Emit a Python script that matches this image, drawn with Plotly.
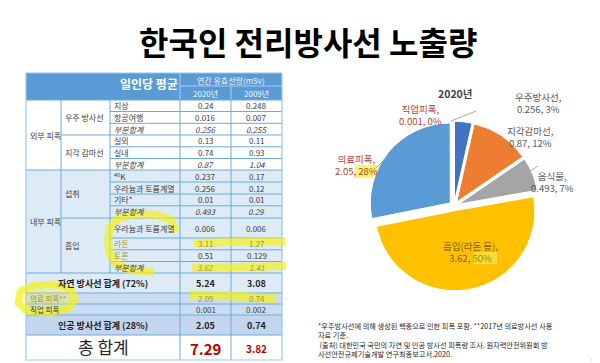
import plotly.graph_objects as go

W, H = 600, 363
FONT = "Noto Sans CJK KR"


def px(x):
    return x / W


def py(y):
    return 1 - y / H


# ---------------- data ----------------
title = "한국인 전리방사선 노출량"
header_main = "일인당 평균"
header_unit = "연간 유효선량(mSv)"
years = ["2020년", "2009년"]

exposure_types = ["외부 피폭", "내부 피폭"]
exposure_spans = [6, 8]
sources = ["우주 방사선", "지각 감마선", "섭취", "흡입"]
source_spans = [3, 3, 4, 4]
items = ["지상", "항공여행", "부분합계", "실외", "실내", "부분합계",
         "<sup>40</sup>K", "우라늄과 토륨계열", "기타*", "부분합계",
         "우라늄과 토륨계열", "라돈", "토론", "부분합계"]
dose_2020 = [0.24, 0.016, 0.256, 0.13, 0.74, 0.87, 0.237, 0.256, 0.01, 0.493,
             0.006, 3.11, 0.51, 3.62]
dose_2009 = [0.248, 0.007, 0.255, 0.11, 0.93, 1.04, 0.17, 0.12, 0.01, 0.29,
             0.006, 1.27, 0.129, 1.41]

summary_labels = ["자연 방사선 합계 (72%)", "의료 피폭**", "직업 피폭",
                  "인공 방사선 합계 (28%)", "총 합계"]
summary_2020 = [5.24, 2.05, 0.001, 2.05, 7.29]
summary_2009 = [3.08, 0.74, 0.002, 0.74, 3.82]

pie_title = "2020년"
pie_labels = ["우주방사선", "지각감마선", "음식물", "흡입(라돈 등)", "의료피폭", "직업피폭"]
pie_values = [0.256, 0.87, 0.493, 3.62, 2.05, 0.001]
pie_pcts = [3, 12, 7, 50, 28, 0]

footnotes = ["*우주방사선에 의해 생성된 핵종으로 인한 피폭 포함. **2017년 의료방사선 사용<br>자료 기준.",
             " (출처) 대한민국 국민의 자연 및 인공 방사선 피폭량 조사. 원자력안전위원회 방<br>사선안전규제기술개발 연구최종보고서.2020."]
page_no = "41"

# ---------------- styles / layout geometry ----------------
pie_colors = ["#4472C4", "#ED7D31", "#A5A5A5", "#FFC000", "#5B9BD5", "#70AD47"]
HEAD = "#5B9BD5"
LINE = "#6FA9DA"
LIGHT_LINE = "#A9CCEB"
TXT = "#404040"
HL_TXT = "#A3952A"
YEL = "rgba(245,240,20,0.68)"

col_x = [18, 53, 102, 172, 223, 274]
head_y = [65, 78, 92]
row_y = [92, 103.5, 115.3, 127, 138.8, 150.5, 162, 174, 186, 197.8, 210, 230,
         241.8, 253.5, 265]
sum_y = [265, 285, 296, 307, 327, 352]
sum_fill = ["#DDEBF7", "#CBDDF1", "#CBDDF1", "#C3D6EE", "#FFFFFF"]

shapes = []
annots = []


def rect(x0, y0, x1, y1, fill, line=None, width=1, layer="below"):
    shapes.append(dict(type="rect", xref="paper", yref="paper",
                       x0=px(x0), x1=px(x1), y0=py(y1), y1=py(y0),
                       fillcolor=fill, layer=layer,
                       line=dict(width=width if line else 0, color=line or fill)))


def hline(x0, x1, y, color=LINE, width=1):
    shapes.append(dict(type="line", xref="paper", yref="paper", x0=px(x0), x1=px(x1),
                       y0=py(y), y1=py(y), line=dict(color=color, width=width), layer="below"))


def vline(x, y0, y1, color=LINE, width=1):
    shapes.append(dict(type="line", xref="paper", yref="paper", x0=px(x), x1=px(x),
                       y0=py(y0), y1=py(y1), line=dict(color=color, width=width), layer="below"))


def stroke(points, width, color=YEL, fill=None):
    d = "M " + " L ".join(f"{px(x):.5f},{py(y):.5f}" for x, y in points)
    if fill:
        d += " Z"
    shapes.append(dict(type="path", xref="paper", yref="paper", path=d, layer="above",
                       fillcolor=fill if fill else "rgba(0,0,0,0)",
                       line=dict(color=color, width=width)))


def txt(x, y, s, size=8.5, color=TXT, xanchor="center", bold=False, italic=False,
        yanchor="middle", align="center"):
    if italic:
        s = "<i>" + s + "</i>"
    if bold:
        s = "<b>" + s + "</b>"
    annots.append(dict(xref="paper", yref="paper", x=px(x), y=py(y), text=s,
                       showarrow=False, xanchor=xanchor, yanchor=yanchor, align=align,
                       font=dict(family=FONT, size=size, color=color)))


def fmt(v):
    return str(v)


# ---------------- table ----------------
rect(col_x[0], head_y[0], col_x[-1], head_y[-1], HEAD)
rect(col_x[0], row_y[6], col_x[-1], row_y[-1], "#DDEBF7")
for i, f in enumerate(sum_fill):
    rect(col_x[0], sum_y[i], col_x[-1], sum_y[i + 1], f)

# header texts
txt(141, 75.5, header_main, size=12, color="white", bold=True)
txt((col_x[3] + col_x[5]) / 2, 72, header_unit, size=8, color="#F2F7FC")
txt((col_x[3] + col_x[4]) / 2, 85.5, years[0], size=8, color="#F2F7FC")
txt((col_x[4] + col_x[5]) / 2, 85.5, years[1], size=8, color="#F2F7FC")
hline(col_x[3], col_x[5], head_y[1], LIGHT_LINE)
vline(col_x[3], head_y[0], head_y[2], LIGHT_LINE)
vline(col_x[4], head_y[1], head_y[2], LIGHT_LINE)

# grid for detail rows
exp_edges = [sum(exposure_spans[:k]) for k in range(len(exposure_spans) + 1)]
src_edges = [sum(source_spans[:k]) for k in range(len(source_spans) + 1)]
for i in range(1, len(row_y) - 1):
    if i in exp_edges:
        x0 = col_x[0]
    elif i in src_edges:
        x0 = col_x[1]
    else:
        x0 = col_x[2]
    hline(x0, col_x[-1], row_y[i])
hline(col_x[0], col_x[-1], row_y[0])
vline(col_x[1], row_y[0], row_y[-1])
vline(col_x[2], row_y[0], row_y[-1])
vline(col_x[3], row_y[0], sum_y[-1])
vline(col_x[4], row_y[0], sum_y[-1])
for y in sum_y[:-1]:
    hline(col_x[0], col_x[-1], y)
rect(col_x[0], head_y[0], col_x[-1], sum_y[-1], "rgba(0,0,0,0)", line="#9CC7E8", width=1.2)

# group labels
for k, name in enumerate(exposure_types):
    yc = (row_y[exp_edges[k]] + row_y[exp_edges[k + 1]]) / 2
    txt(col_x[0] + 1.5, yc, name, size=8, xanchor="left")
for k, name in enumerate(sources):
    yc = (row_y[src_edges[k]] + row_y[src_edges[k + 1]]) / 2
    txt(col_x[1] + 2, yc, name, size=8, xanchor="left")

# item rows
highlight_rows = {11, 12}
highlight_vals = {11, 13}
for i, it in enumerate(items):
    yc = (row_y[i] + row_y[i + 1]) / 2
    sub = it == "부분합계"
    c = HL_TXT if i in highlight_rows else TXT
    txt(col_x[2] + 2, yc, it, size=8, color=c, xanchor="left", italic=sub)
    vc = HL_TXT if i in highlight_vals else TXT
    txt((col_x[3] + col_x[4]) / 2, yc, fmt(dose_2020[i]), size=8, color=vc, italic=sub)
    txt((col_x[4] + col_x[5]) / 2, yc, fmt(dose_2009[i]), size=8, color=vc, italic=sub)

# summary rows
for i, lab in enumerate(summary_labels):
    yc = (sum_y[i] + sum_y[i + 1]) / 2
    c1 = (col_x[3] + col_x[4]) / 2
    c2 = (col_x[4] + col_x[5]) / 2
    if i in (0, 3):
        txt(95, yc, lab, size=9, color="#1F1F1F", bold=True)
        txt(c1, yc, fmt(summary_2020[i]), size=9, color="#1F1F1F", bold=True)
        txt(c2, yc, fmt(summary_2009[i]), size=9, color="#1F1F1F", bold=True)
    elif i in (1, 2):
        c = HL_TXT if i == 1 else TXT
        txt(col_x[0] + 1.5, yc, lab, size=7.5, color=c, xanchor="left")
        txt(c1, yc, fmt(summary_2020[i]), size=8, color=c)
        txt(c2, yc, fmt(summary_2009[i]), size=8, color=c)
    else:
        txt(95, yc - 1, lab, size=17, color="#262626")
        txt(c1, yc + 1, fmt(summary_2020[i]), size=15, color="#C00000", bold=True)
        txt(c2, yc + 1, fmt(summary_2009[i]), size=10, color="#C00000", bold=True)

# highlighter marks
stroke([(168, 224), (163, 212), (148, 207), (128, 206), (110, 210), (102, 220),
        (100, 233), (102, 246), (108, 256), (122, 262), (146, 264)], 8)
stroke([(186, 235), (230, 234), (277, 233)], 8)
stroke([(184, 260), (230, 259), (278, 258)], 8)
stroke([(182, 287), (225, 288), (268, 291)], 9)
stroke([(14, 282), (28, 277), (48, 276), (63, 281), (67, 291), (60, 301),
        (40, 305), (18, 303), (10, 295), (12, 284)], 7, fill="rgba(245,240,20,0.3)")

# ---------------- pie ----------------
R = 80
PULL = 0.06
CX, CY = 446, 198
half = R * (1 + PULL)
pie = go.Pie(values=pie_values, labels=pie_labels, sort=False, direction="clockwise",
             rotation=0, pull=PULL, textinfo="none", showlegend=False,
             marker=dict(colors=pie_colors, line=dict(color="white", width=1)),
             domain=dict(x=[px(CX - half), px(CX + half)], y=[py(CY + half), py(CY - half)]),
             hovertemplate="%{label}: %{value}<extra></extra>")

# pie labels
GRAY = "#595959"
RED = "#B4433C"
label_pos = [(530, 95, GRAY), (522, 128.5, GRAY), (544, 174, GRAY), (463, 244, "#7F6000"),
             (348, 156.5, RED), (412, 107.5, RED)]
for k, (x, y, c) in enumerate(label_pos):
    if k == 3:
        s = f"{pie_labels[k]},<br>{pie_values[k]}, <span style='color:#8F8F00'>{pie_pcts[k]}%</span>"
    else:
        s = f"{pie_labels[k]},<br>{pie_values[k]}, {pie_pcts[k]}%"
    txt(x, y, s, size=9.5, color=c)

# yellow marks behind percents
rect(347, 157, 371, 170, "#FFF36B", layer="below")
rect(466, 244, 489, 256, "#FFF36B", layer="above")
shapes[-1]["opacity"] = 0.55

# leader lines
for (x0, y0, x1, y1) in [(443, 113, 468, 103), (368, 160, 380, 148), (522, 163, 530, 158)]:
    shapes.append(dict(type="line", xref="paper", yref="paper", x0=px(x0), y0=py(y0),
                       x1=px(x1), y1=py(y1), line=dict(color="#A6A6A6", width=1)))

txt(447, 85, pie_title, size=10.5, color="#404040", bold=True)

# ---------------- title / footnotes ----------------
txt(300, 33, title, size=32, color="black", bold=True)
txt(308, 311, footnotes[0], size=7.2, color="#262626", xanchor="left", yanchor="top", align="left")
txt(308, 330, footnotes[1], size=7.2, color="#262626", xanchor="left", yanchor="top", align="left")
txt(587, 350, page_no, size=8, color="#A6A6A6")

fig = go.Figure(pie)
fig.update_layout(width=W, height=H, margin=dict(l=0, r=0, t=0, b=0),
                  paper_bgcolor="white", plot_bgcolor="white",
                  shapes=shapes, annotations=annots,
                  font=dict(family=FONT))
fig.write_html("out.html")
